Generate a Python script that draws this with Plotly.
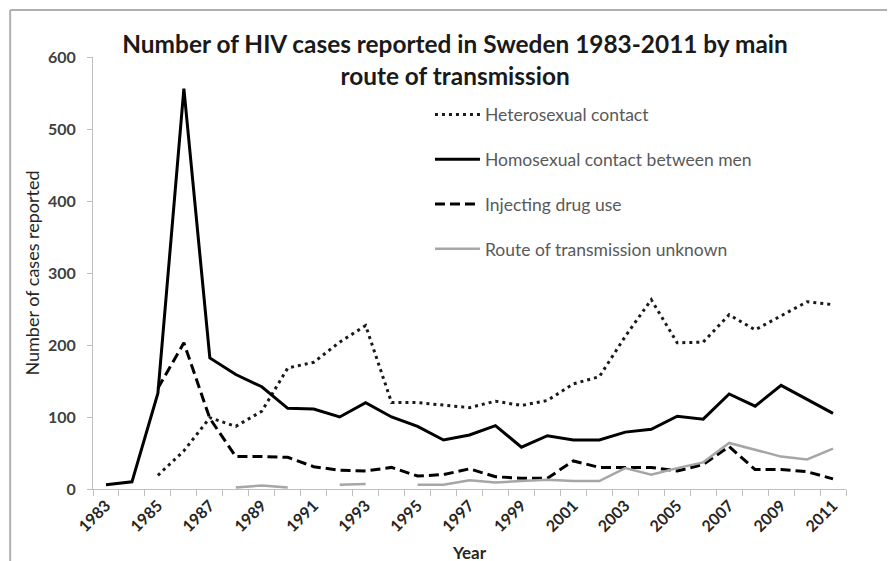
import plotly.graph_objects as go

years = list(range(1983, 2012))
hetero = [None, None, 19, 53, 99, 87, 108, 168, 176, 204, 227, 120, 120, 117, 113,
          122, 116, 123, 146, 156, 212, 263, 203, 204, 242, 221, 240, 260, 256]
homo = [6, 10, 133, 556, 182, 159, 142, 112, 111, 100, 120, 100, 87, 68, 75,
        88, 58, 74, 68, 68, 79, 83, 101, 97, 132, 115, 144, 124, 105]
idu = [None, None, 140, 203, 98, 45, 45, 44, 31, 26, 25, 30, 18, 20, 28,
       17, 15, 15, 39, 30, 30, 30, 25, 34, 59, 27, 27, 24, 14]
unknown = [None, None, None, None, None, 2, 5, 2, None, 6, 7, None, 6, 6, 12,
           9, 11, 13, 11, 11, 29, 20, 29, 37, 64, 54, 45, 41, 56]
names = ["Heterosexual contact", "Homosexual contact between men",
         "Injecting drug use", "Route of transmission unknown"]
tick_years = list(range(1983, 2012, 2))

FONT = "Lato"
fig = go.Figure()
styles = [
    dict(color="#1a1a1a", width=3, dash="3px,4px"),
    dict(color="#000000", width=3, dash="solid"),
    dict(color="#000000", width=3, dash="10px,5px"),
    dict(color="#a6a6a6", width=2.5, dash="solid"),
]
for i, (nm, ys) in enumerate(zip(names, [hetero, homo, idu, unknown])):
    fig.add_trace(go.Scatter(x=years, y=ys, name=nm, mode="lines",
                             line=styles[i], connectgaps=False,
                             legendgroup=str(i)))

# page body has an 8px offset; margins compensate so the plot area lands at
# x 93..846, y 57..489 on screen
fig.update_layout(
    width=895, height=561,
    margin=dict(l=85, r=57, t=49, b=80),
    paper_bgcolor="white", plot_bgcolor="white",
    font=dict(family=FONT, color="#404040"),
    title=dict(text="Number of HIV cases reported in Sweden 1983-2011 by main<br>route of transmission",
               x=0.4995, xref="container", xanchor="center",
               y=0.92, yref="container", yanchor="top",
               font=dict(family=FONT, size=24.4, color="#1a1a1a", weight="bold")),
    legend=dict(x=0.4475, y=0.908, xanchor="left", yanchor="top",
                font=dict(family=FONT, size=17.5, color="#595959"),
                tracegroupgap=19, bgcolor="rgba(0,0,0,0)", itemwidth=45),
    showlegend=True,
)
fig.update_xaxes(
    range=[1982.5, 2011.5], showgrid=False, zeroline=False, automargin=False,
    showline=True, linecolor="#bfbfbf", linewidth=1,
    tickvals=tick_years, ticktext=[str(y) for y in tick_years],
    tickangle=-45, ticks="",
    tickfont=dict(family=FONT, size=16, color="#262626", weight="bold"),
    minor=dict(ticks="outside", tick0=1982.5, dtick=1, ticklen=6,
               tickcolor="#bfbfbf", showgrid=False),
    title=dict(text="Year", standoff=12,
               font=dict(family=FONT, size=17, color="#262626", weight="bold")),
)
fig.update_yaxes(
    range=[0, 600], dtick=100, showgrid=False, zeroline=False, automargin=False,
    showline=True, linecolor="#bfbfbf", linewidth=1,
    ticks="outside", ticklen=5, tickcolor="#bfbfbf",
    ticklabelstandoff=8,
    tickfont=dict(family=FONT, size=16, color="#404040", weight="bold"),
    title=dict(text="Number of cases reported", standoff=3,
               font=dict(family=FONT, size=18, color="#262626")),
)
# outer chart frame (top and left edges)
fig.add_shape(type="line", xref="paper", yref="paper",
              x0=-0.110, x1=1.07, y0=1.1087, y1=1.1087,
              line=dict(color="#b0b0b0", width=2))
fig.add_shape(type="line", xref="paper", yref="paper",
              x0=-0.110, x1=-0.110, y0=-0.2, y1=1.1087,
              line=dict(color="#b0b0b0", width=2))

fig.write_html("out.html")
